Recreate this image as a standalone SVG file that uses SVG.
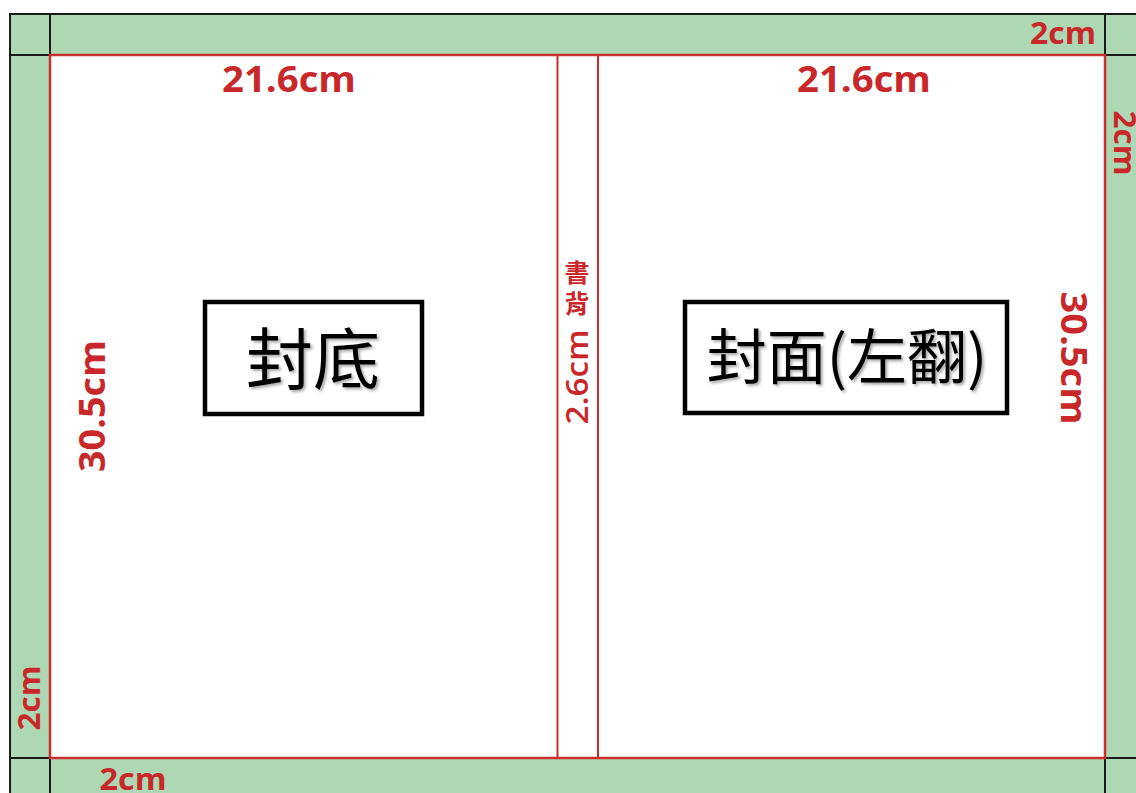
<svg xmlns="http://www.w3.org/2000/svg" width="1136" height="793" viewBox="0 0 1136 793">
<defs>
<style>
.g{fill:#aed8b3}
.blk{stroke:#1a1a1a;stroke-width:2;fill:none}
.red{stroke:#c9302c;stroke-width:2.5;fill:none}
.dim{font-family:"Open Sans","Liberation Sans",sans-serif;font-weight:bold;fill:#c9282a;text-anchor:middle}
.lbl{font-family:"Noto Sans CJK TC","Noto Sans CJK SC",serif;fill:#000;text-anchor:middle}
.box{fill:#fff;stroke:#000;stroke-width:4.5}
.sp{font-family:"Noto Sans CJK TC","Noto Sans CJK SC",sans-serif;font-weight:bold;fill:#c9282a;text-anchor:middle}
</style>
<filter id="sh" x="-10%" y="-10%" width="130%" height="130%"><feDropShadow dx="2" dy="2" stdDeviation="1.5" flood-color="#000" flood-opacity="0.35"/></filter>
</defs>
<rect width="1136" height="793" fill="#fff"/>
<g id="strips">
<rect class="g" x="10" y="14" width="1126" height="41"/>
<rect class="g" x="10" y="14" width="40" height="779"/>
<rect class="g" x="1105" y="14" width="31" height="779"/>
<rect class="g" x="10" y="758" width="1126" height="35"/>
<rect x="50" y="55" width="1055" height="703" fill="#fff"/>
</g>
<g id="outlines">
<path class="blk" d="M10 793 V14 H1136"/>
<path class="blk" d="M50 14 V55 M10 55 H50 M1105 14 V55 M1105 55 H1136 M10 758 H50 M50 758 V793 M1105 758 H1136 M1105 758 V793"/>
<rect class="red" x="50" y="55" width="1055" height="703"/>
<path class="red" d="M557.5 55 V758 M598 55 V758" style="stroke-width:2"/>
</g>
<g id="dims">
<text class="dim" x="289" y="92" font-size="35" textLength="134" lengthAdjust="spacingAndGlyphs">21.6cm</text>
<text class="dim" x="864" y="92" font-size="35" textLength="134" lengthAdjust="spacingAndGlyphs">21.6cm</text>
<text class="dim" x="1063" y="44" font-size="30" textLength="66" lengthAdjust="spacingAndGlyphs">2cm</text>
<text class="dim" x="133" y="790" font-size="30" textLength="67" lengthAdjust="spacingAndGlyphs">2cm</text>
<text class="dim" font-size="30" transform="translate(1114,143) rotate(90)" textLength="65" lengthAdjust="spacingAndGlyphs">2cm</text>
<text class="dim" font-size="30" transform="translate(40,698) rotate(-90)" textLength="65" lengthAdjust="spacingAndGlyphs">2cm</text>
<text class="dim" font-size="35" transform="translate(1061,358) rotate(90)" textLength="133" lengthAdjust="spacingAndGlyphs">30.5cm</text>
<text class="dim" font-size="35" transform="translate(105,406) rotate(-90)" textLength="132" lengthAdjust="spacingAndGlyphs">30.5cm</text>
</g>
<g id="spine">
<text class="sp" font-size="25"><tspan x="577" y="282">書</tspan><tspan x="577" y="313">背</tspan></text>
<text font-size="30" font-weight="600" fill="#c9282a" text-anchor="middle" font-family="'Open Sans','Liberation Sans',sans-serif" transform="translate(588,377) rotate(-90)" textLength="95" lengthAdjust="spacingAndGlyphs">2.6cm</text>
</g>
<g id="back">
<rect class="box" x="205" y="302" width="217" height="112"/>
<text class="lbl" x="313" y="384" font-size="67" filter="url(#sh)">封底</text>
</g>
<g id="front">
<rect class="box" x="685" y="302" width="322" height="111"/>
<text class="lbl" x="847" y="379" font-size="60" filter="url(#sh)">封面(左翻)</text>
</g>
</svg>
